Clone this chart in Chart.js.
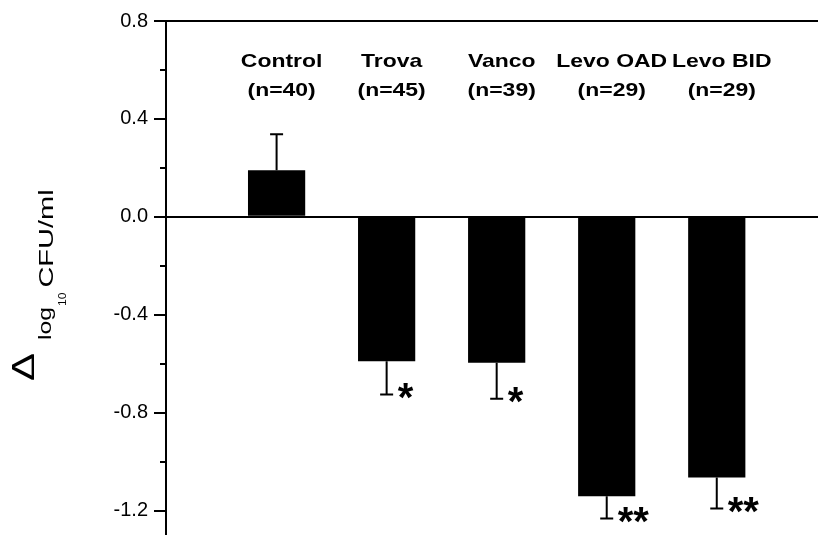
<!DOCTYPE html>
<html><head><meta charset="utf-8">
<script src="https://cdn.jsdelivr.net/npm/chart.js@4/dist/chart.umd.min.js"></script>
<style>html,body{margin:0;padding:0;background:#fff}#wrap{width:818px;height:535px;position:relative}</style>
</head><body><div id="wrap"><canvas id="c" width="818" height="535"></canvas></div>
<script>
// ---- data ----
const groups   = ['Control', 'Trova', 'Vanco', 'Levo OAD', 'Levo BID'];
const groupN   = ['(n=40)', '(n=45)', '(n=39)', '(n=29)', '(n=29)'];
const means    = [0.19, -0.59, -0.596, -1.142, -1.065];
const errors   = [0.147, 0.136, 0.147, 0.091, 0.127];
const marks    = ['', '*', '*', '**', '**'];
const majorTicks = [-1.2, -0.8, -0.4, 0.0, 0.4, 0.8];
const minorTicks = [-1.0, -0.6, -0.2, 0.2, 0.6];

const FONT = '"Liberation Sans", Arial, Helvetica, sans-serif';
const isMajor = v => majorTicks.some(m => Math.abs(m - v) < 1e-9);

const annotatePlugin = {
  id: 'annotate',
  afterDatasetsDraw(chart) {
    const ctx = chart.ctx;
    const y = chart.scales.y;
    const area = chart.chartArea;
    const meta = chart.getDatasetMeta(0);
    ctx.save();
    ctx.strokeStyle = '#000';
    ctx.fillStyle = '#000';
    // top frame line
    ctx.lineWidth = 2;
    ctx.beginPath();
    ctx.moveTo(area.left, area.top);
    ctx.lineTo(area.right, area.top);
    ctx.stroke();
    // minor ticks
    minorTicks.forEach(v => {
      const py = Math.round(y.getPixelForValue(v));
      ctx.beginPath();
      ctx.moveTo(area.left - 6, py);
      ctx.lineTo(area.left, py);
      ctx.stroke();
    });
    // error bars and significance marks
    meta.data.forEach((el, i) => {
      const sign = means[i] >= 0 ? 1 : -1;
      const y0 = y.getPixelForValue(means[i]);
      const y1 = y.getPixelForValue(means[i] + sign * errors[i]);
      const x = el.x;
      ctx.lineWidth = 2;
      ctx.beginPath();
      ctx.moveTo(x, y0);
      ctx.lineTo(x, y1);
      ctx.moveTo(x - 6.5, y1);
      ctx.lineTo(x + 6.5, y1);
      ctx.stroke();
      if (marks[i]) {
        ctx.font = 'bold 40px ' + FONT;
        ctx.textAlign = 'left';
        ctx.textBaseline = 'alphabetic';
        const m = ctx.measureText(marks[i]);
        const cy = y1 - 4;
        const by = cy + (m.actualBoundingBoxAscent - m.actualBoundingBoxDescent) / 2;
        ctx.fillText(marks[i], x + 11 + m.actualBoundingBoxLeft, by);
      }
      // group labels at top
      ctx.textAlign = 'center';
      ctx.textBaseline = 'alphabetic';
      ctx.font = 'bold 18.5px ' + FONT;
      [[groups[i], area.top + 46], [groupN[i], area.top + 75]].forEach(([t, ty]) => {
        ctx.save();
        ctx.translate(x + 5, ty);
        ctx.scale(1.24, 1);
        ctx.fillText(t, 0, 0);
        ctx.restore();
      });
    });
    // y axis title: Δ log10 CFU/ml (rotated)
    ctx.save();
    ctx.translate(0, 381);
    ctx.rotate(-Math.PI / 2);
    ctx.textAlign = 'left';
    ctx.textBaseline = 'alphabetic';
    const sx = 1.35;
    const piece = (txt, font, u, v, s) => {
      ctx.font = font;
      ctx.save();
      ctx.translate(u, v);
      ctx.scale(s, 1);
      ctx.fillText(txt, 0, 0);
      ctx.restore();
      return u + ctx.measureText(txt).width * s;
    };
    piece('\u0394', '31px ' + FONT, 0, 34, 1.35);
    let u = piece('log', '19px ' + FONT, 41, 51, 1.3);
    u = piece('10', '11px ' + FONT, u + 1, 66, 1.1);
    piece('CFU/ml', '21px ' + FONT, u + 5, 53, 1.38);
    ctx.restore();
    ctx.restore();
  }
};

new Chart(document.getElementById('c').getContext('2d'), {
  type: 'bar',
  data: {
    datasets: [{
      data: means.map((v, i) => ({ x: i, y: v })),
      backgroundColor: '#000',
      borderWidth: 0,
      categoryPercentage: 1,
      barPercentage: 0.52
    }]
  },
  options: {
    responsive: false,
    animation: false,
    devicePixelRatio: 1,
    layout: { padding: { top: 21, left: 0, right: 0, bottom: 0 } },
    plugins: { legend: { display: false }, tooltip: { enabled: false } },
    scales: {
      x: {
        type: 'linear', min: -1.005, max: 4.92, display: false, offset: false,
        grid: { offset: false },
        afterBuildTicks: s => { s.ticks = groups.map((_, i) => ({ value: i })); }
      },
      y: {
        min: -1.3, max: 0.8,
        afterBuildTicks: s => { s.ticks = [...majorTicks].sort((a, b) => a - b).map(v => ({ value: v })); },
        afterFit: s => { s.width = 166; s.paddingTop = 0; s.paddingBottom = 0; },
        ticks: {
          callback: v => isMajor(v) ? Number(v).toFixed(1) : '',
          font: { family: FONT, size: 20 },
          color: '#000',
          padding: 6,
          autoSkip: false
        },
        grid: {
          drawOnChartArea: true,
          color: c => (c.tick && Math.abs(c.tick.value) < 1e-9) ? '#000' : 'rgba(0,0,0,0)',
          lineWidth: 2,
          drawTicks: true,
          tickLength: 12,
          tickWidth: 2,
          tickColor: '#000'
        },
        border: { display: true, color: '#000', width: 2 }
      }
    }
  },
  plugins: [annotatePlugin]
});
</script></body></html>
